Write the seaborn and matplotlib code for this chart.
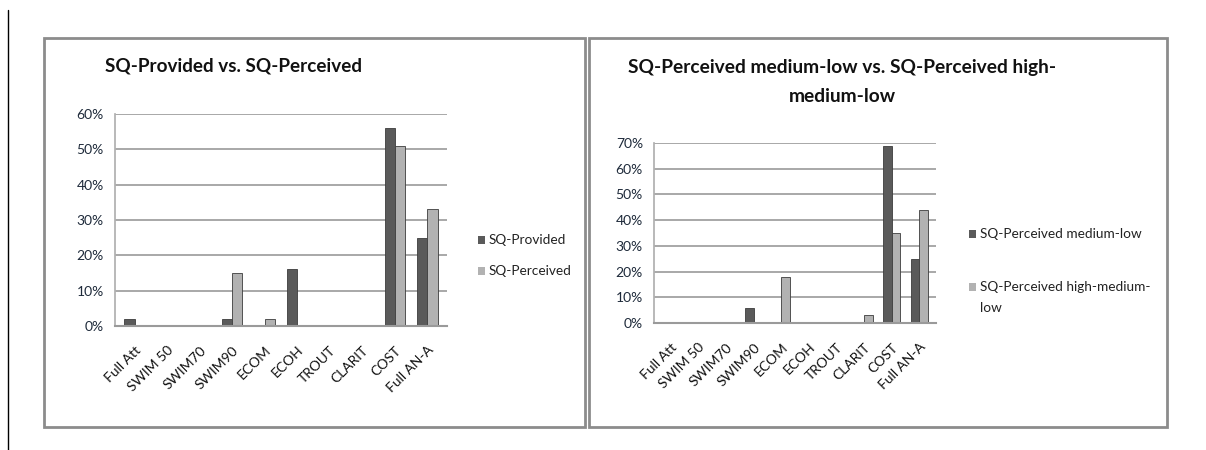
import numpy as np
import pandas as pd
import matplotlib
matplotlib.use("Agg")
import matplotlib.pyplot as plt
from matplotlib.patches import Rectangle
from matplotlib.lines import Line2D
from matplotlib.ticker import FuncFormatter, MultipleLocator
import seaborn as sns

categories = ["Full Att", "SWIM 50", "SWIM70", "SWIM90", "ECOM", "ECOH",
              "TROUT", "CLARIT", "COST", "Full AN-A"]

sq_provided = [2, 0, 0, 2, 0, 16, 0, 0, 56, 25]
sq_perceived = [0, 0, 0, 15, 2, 0, 0, 0, 51, 33]

perceived_medium_low = [0, 0, 0, 6, 0, 0, 0, 0, 69, 25]
perceived_high_medium_low = [0, 0, 0, 0, 18, 0, 0, 3, 35, 44]

dark = "#5a5a5a"
light = "#b2b2b2"

sns.set_theme(style="white")
plt.rcParams["font.family"] = ["Lato", "DejaVu Sans"]

fig = plt.figure(figsize=(12.06, 4.5), dpi=100)

def px(x, y):
    return x / 1206, 1 - y / 450

# panel frames and the left rule
fig.add_artist(Line2D([8 / 1206, 8 / 1206], [0, 1 - 10 / 450], color="black", lw=1))
for x0, x1 in [(44, 585), (589, 1167)]:
    fig.add_artist(Rectangle(px(x0, 427), (x1 - x0) / 1206, (427 - 38) / 450,
                             fill=False, ec="#8c8c8c", lw=2))


def draw_panel(rect, s1, s2, n1, n2, ymax, step):
    ax = fig.add_axes(rect)
    df = pd.DataFrame({
        "category": categories * 2,
        "value": s1 + s2,
        "series": [n1] * len(categories) + [n2] * len(categories),
    })
    sns.barplot(data=df, x="category", y="value", hue="series",
                palette=[dark, light], width=0.62, ax=ax,
                edgecolor="#3c3c3c", linewidth=0.6, legend=False)
    ax.set_ylim(0, ymax)
    ax.yaxis.set_major_locator(MultipleLocator(step))
    ax.yaxis.set_major_formatter(FuncFormatter(lambda v, p: f"{v:.0f}%"))
    ax.grid(axis="y", color="#9a9a9a", lw=1.2)
    ax.set_axisbelow(True)
    for s in ["top", "right"]:
        ax.spines[s].set_visible(False)
    ax.spines["left"].set_color("#b0b0b0")
    ax.spines["bottom"].set_color("#9a9a9a")
    ax.spines["bottom"].set_linewidth(1.5)
    ax.set_xlabel("")
    ax.set_ylabel("")
    ax.tick_params(axis="y", labelsize=10, length=0, pad=8, labelcolor="#1e2a3a")
    ax.tick_params(axis="x", labelsize=10, length=0, pad=13, labelcolor="#111111")
    for lab in ax.get_xticklabels():
        lab.set_rotation(45)
        lab.set_ha("right")
        lab.set_rotation_mode("anchor")
    ax.set_xlim(-0.6, len(categories) - 0.4)
    return ax


draw_panel([115 / 1206, (450 - 326) / 450, 332 / 1206, 212 / 450],
           sq_provided, sq_perceived, "SQ-Provided", "SQ-Perceived", 60, 10)
draw_panel([654 / 1206, (450 - 323) / 450, 282 / 1206, 180 / 450],
           perceived_medium_low, perceived_high_medium_low,
           "SQ-Perceived medium-low", "SQ-Perceived high-medium-low", 70, 10)

# titles
fig.text(*px(105, 66), "SQ-Provided vs. SQ-Perceived", fontsize=13.6,
         fontweight="bold", ha="left", va="center", color="#111111")
fig.text(*px(842, 68), "SQ-Perceived medium-low vs. SQ-Perceived high-",
         fontsize=13.8, fontweight="bold", ha="center", va="center", color="#111111")
fig.text(*px(842, 97), "medium-low", fontsize=13.8, fontweight="bold",
         ha="center", va="center", color="#111111")

# legends
def legend_entry(x, y, color, text):
    fig.add_artist(Rectangle(px(x, y + 4), 7 / 1206, 8 / 450, color=color, lw=0))
    fig.text(*px(x + 11, y), text, fontsize=9.8, ha="left", va="center",
             color="#222222")

legend_entry(478, 240, dark, "SQ-Provided")
legend_entry(478, 271, light, "SQ-Perceived")
legend_entry(969, 234, dark, "SQ-Perceived medium-low")
legend_entry(969, 287, light, "SQ-Perceived high-medium-")
fig.text(*px(980, 308), "low", fontsize=9.8, ha="left", va="center", color="#222222")

fig.savefig("out.png", dpi=100, facecolor="white")
